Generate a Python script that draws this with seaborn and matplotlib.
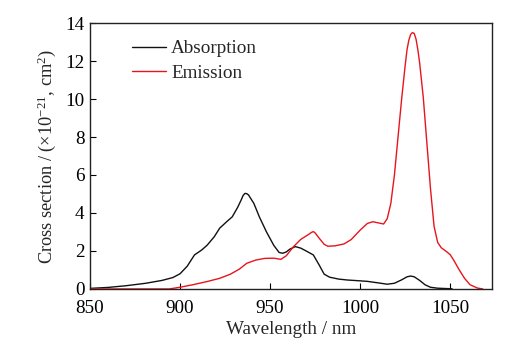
import matplotlib
matplotlib.use("Agg")
import matplotlib.pyplot as plt
import numpy as np
import pandas as pd
import seaborn as sns

# Absorption cross section (x10^-21 cm^2) vs wavelength (nm)
abs_wl = [850, 860, 870, 881, 890, 896, 900, 904, 908, 912, 915, 919, 922, 926, 929, 932,
          934, 935, 936, 937, 938, 941, 944, 948, 952, 955, 957, 959, 961, 964, 967, 970,
          974, 977, 980, 983, 988, 993, 998, 1004, 1010, 1015, 1019, 1023, 1026, 1028,
          1030, 1033, 1036, 1039, 1043, 1048, 1051]
abs_cs = [0.03, 0.08, 0.17, 0.30, 0.45, 0.60, 0.80, 1.20, 1.79, 2.05, 2.30, 2.75, 3.20, 3.55,
          3.80, 4.30, 4.70, 4.92, 5.03, 5.02, 4.95, 4.50, 3.80, 3.00, 2.30, 1.92, 1.88, 1.95,
          2.10, 2.23, 2.15, 2.00, 1.79, 1.30, 0.78, 0.62, 0.52, 0.47, 0.44, 0.40, 0.32, 0.25,
          0.30, 0.48, 0.64, 0.68, 0.64, 0.45, 0.22, 0.09, 0.04, 0.02, 0.01]

# Emission cross section (x10^-21 cm^2) vs wavelength (nm)
em_wl = [850, 870, 885, 894, 900, 907, 915, 922, 928, 933, 937, 942, 947, 952, 956, 959,
         963, 967, 971, 973, 974, 975, 977, 980, 982, 986, 991, 995, 1000, 1004, 1007, 1010,
         1013, 1015, 1017, 1019, 1021, 1023, 1025, 1026, 1027, 1028, 1029, 1030, 1031, 1032,
         1033, 1035, 1037, 1039, 1041, 1043, 1045, 1048, 1050, 1052, 1055, 1058, 1061, 1065,
         1068]
em_cs = [0.0, 0.0, 0.0, 0.0, 0.09, 0.22, 0.39, 0.56, 0.78, 1.05, 1.35, 1.52, 1.61, 1.62,
         1.56, 1.75, 2.23, 2.61, 2.85, 2.98, 3.02, 2.95, 2.70, 2.35, 2.25, 2.27, 2.37, 2.60,
         3.10, 3.45, 3.54, 3.48, 3.42, 3.70, 4.50, 6.00, 8.00, 10.0, 11.8, 12.6, 13.1, 13.4,
         13.5, 13.45, 13.15, 12.6, 11.9, 10.1, 7.7, 5.3, 3.3, 2.45, 2.17, 1.96, 1.80, 1.50,
         1.00, 0.55, 0.22, 0.05, 0.0]

absorption_label = "Absorption"
emission_label = "Emission"

df = pd.concat([
    pd.DataFrame({"wl": abs_wl, "cs": abs_cs, "kind": absorption_label}),
    pd.DataFrame({"wl": em_wl, "cs": em_cs, "kind": emission_label}),
])

sns.set_theme(style="ticks")
plt.rcParams["font.family"] = ["Liberation Serif", "DejaVu Serif"]
plt.rcParams["mathtext.fontset"] = "stix"

fs = 13.8
fig = plt.figure(figsize=(5.2, 3.44), dpi=100)
ax = fig.add_axes([0.173, 0.16, 0.7726, 0.773])

sns.lineplot(data=df, x="wl", y="cs", hue="kind", sort=False,
             palette={absorption_label: "#111111", emission_label: "#e8141c"},
             linewidth=1.0, ax=ax)

ax.set_xlim(850, 1073)
ax.set_ylim(0, 14)
ax.set_xticks([850, 900, 950, 1000, 1050])
ax.set_yticks(np.arange(0, 15, 2))
ax.tick_params(direction="in", length=4, width=0.8, labelsize=fs, colors="black")
ax.tick_params(axis="x", pad=8)
ax.tick_params(axis="y", pad=4)
for s in ax.spines.values():
    s.set_linewidth(1.0)
    s.set_color("#222222")

ax.set_xlabel("Wavelength / nm", fontsize=fs, labelpad=3)
ax.set_ylabel("Cross section / (×10$^{\\mathregular{−21}}$, cm$^{\\mathregular{2}}$)",
              fontsize=13.2, labelpad=5)

leg = ax.legend(loc="upper left", bbox_to_anchor=(0.1046, 0.936), frameon=False,
                borderaxespad=0, borderpad=0,
                fontsize=fs, handlelength=1.75, handletextpad=0.3, labelspacing=0.36)
leg.set_title(None)

fig.savefig("out.png", dpi=100)
